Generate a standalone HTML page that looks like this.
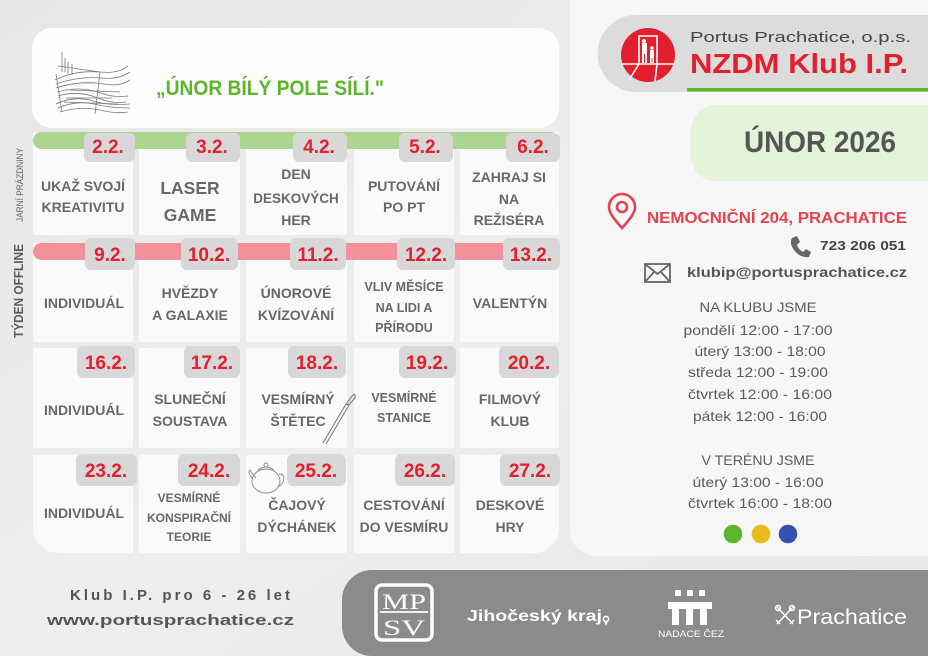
<!DOCTYPE html>
<html><head><meta charset="utf-8"><style>
html,body{margin:0;padding:0;background:#ebebeb;}
svg{display:block;}
text{font-family:"Liberation Sans","DejaVu Sans",sans-serif;}
.a{font-weight:bold;fill:#686868;font-size:14px;text-anchor:middle;}
.d{font-weight:bold;fill:#e41f2e;font-size:19px;text-anchor:middle;}
.h{fill:#5a5a5a;font-size:14px;text-anchor:middle;}
</style></head><body>
<svg width="928" height="656" viewBox="0 0 928 656" xmlns="http://www.w3.org/2000/svg">
<defs>
<linearGradient id="bg" x1="0" y1="0" x2="1" y2="1">
<stop offset="0" stop-color="#e6e6e6"/><stop offset="0.5" stop-color="#eeeeee"/><stop offset="1" stop-color="#e8e8e8"/>
</linearGradient>
</defs>
<rect width="928" height="656" fill="url(#bg)"/>

<!-- right panel -->
<path d="M570 0 H928 V556 H596 A26 26 0 0 1 570 530 Z" fill="#f7f7f7"/>

<!-- header box -->
<rect x="32" y="28" width="527" height="100" rx="20" fill="#fdfdfd"/>
<!-- sketch -->
<g stroke="#6e6e6e" stroke-width="0.8" fill="none" opacity="0.9">
<path d="M55 80 Q75 70 100 72 Q118 74 128 66"/>
<path d="M56 84 Q78 76 102 78 Q118 80 130 72"/>
<path d="M56 88 Q80 80 104 84 Q120 87 130 80"/>
<path d="M57 92 Q78 86 98 92 Q112 98 128 96"/>
<path d="M58 96 Q78 90 98 98 Q112 104 126 102"/>
<path d="M56 104 Q72 96 90 100 Q106 106 130 104"/>
<path d="M58 108 Q76 100 94 104 Q110 108 130 108"/>
<path d="M60 112 Q80 106 100 110 Q116 114 128 112"/>
<path d="M62 52 V72 M65 58 V72 M68 62 V74 M72 64 V75 M58 66 L100 72"/>
<path d="M56 74 L62 112 M100 72 L95 114"/>
<path d="M70 90 L120 92 M66 98 L112 98 M64 102 L118 104"/>
</g>
<text x="156" y="95" font-size="21" font-weight="bold" fill="#5db52c" textLength="228" lengthAdjust="spacingAndGlyphs">„ÚNOR BÍLÝ POLE SÍLÍ."</text>

<!-- cells -->
<g fill="#fafafa">
<rect x="33" y="132" width="100" height="103" rx="2"/>
<rect x="139" y="132" width="101" height="103" rx="2"/>
<rect x="246" y="132" width="101" height="103" rx="2"/>
<rect x="354" y="132" width="100" height="103" rx="2"/>
<rect x="460" y="132" width="99" height="103" rx="2"/>

<rect x="33" y="243" width="100" height="99" rx="2"/>
<rect x="139" y="243" width="101" height="99" rx="2"/>
<rect x="246" y="243" width="101" height="99" rx="2"/>
<rect x="354" y="243" width="100" height="99" rx="2"/>
<rect x="460" y="243" width="99" height="99" rx="2"/>

<rect x="33" y="348" width="100" height="100" rx="2"/>
<rect x="139" y="348" width="101" height="100" rx="2"/>
<rect x="246" y="348" width="101" height="100" rx="2"/>
<rect x="354" y="348" width="100" height="100" rx="2"/>
<rect x="460" y="348" width="99" height="100" rx="2"/>

<path d="M33 455 H133 V553 H58 A25 25 0 0 1 33 528 Z"/>
<rect x="139" y="455" width="101" height="98" rx="2"/>
<rect x="246" y="455" width="101" height="98" rx="2"/>
<rect x="354" y="455" width="100" height="98" rx="2"/>
<path d="M460 455 H559 V528 A25 25 0 0 1 534 553 H460 Z"/>
</g>

<!-- bars -->
<rect x="33" y="132" width="526" height="17" rx="8.5" fill="#acd68f"/>
<rect x="33" y="243" width="526" height="17" rx="8.5" fill="#f29199"/>

<!-- badges -->
<g fill="#d8d8d8">
<rect x="84" y="133" width="51" height="29" rx="6"/>
<rect x="186" y="133" width="54" height="29" rx="6"/>
<rect x="293" y="133" width="54" height="29" rx="6"/>
<rect x="399" y="133" width="54" height="29" rx="6"/>
<rect x="506" y="133" width="54" height="29" rx="6"/>

<rect x="85" y="238" width="50" height="32" rx="6"/>
<rect x="181" y="238" width="57" height="32" rx="6"/>
<rect x="290" y="238" width="56" height="32" rx="6"/>
<rect x="397" y="238" width="58" height="32" rx="6"/>
<rect x="503" y="238" width="57" height="32" rx="6"/>

<rect x="77" y="346" width="58" height="32" rx="6"/>
<rect x="184" y="346" width="56" height="32" rx="6"/>
<rect x="288" y="346" width="58" height="32" rx="6"/>
<rect x="399" y="346" width="57" height="32" rx="6"/>
<rect x="499" y="346" width="60" height="32" rx="6"/>

<rect x="76" y="454" width="61" height="32" rx="6"/>
<rect x="178" y="454" width="62" height="32" rx="6"/>
<rect x="287" y="454" width="59" height="32" rx="6"/>
<rect x="395" y="454" width="60" height="32" rx="6"/>
<rect x="500" y="454" width="60" height="32" rx="6"/>
</g>

<!-- dates -->
<text class="d" x="108" y="153">2.2.</text>
<text class="d" x="212" y="153">3.2.</text>
<text class="d" x="319" y="153">4.2.</text>
<text class="d" x="425" y="153">5.2.</text>
<text class="d" x="533" y="153">6.2.</text>

<text class="d" x="110" y="261">9.2.</text>
<text class="d" x="209" y="261">10.2.</text>
<text class="d" x="318" y="261">11.2.</text>
<text class="d" x="426" y="261">12.2.</text>
<text class="d" x="531" y="261">13.2.</text>

<text class="d" x="106" y="369">16.2.</text>
<text class="d" x="212" y="369">17.2.</text>
<text class="d" x="317" y="369">18.2.</text>
<text class="d" x="427" y="369">19.2.</text>
<text class="d" x="529" y="369">20.2.</text>

<text class="d" x="106" y="477">23.2.</text>
<text class="d" x="209" y="477">24.2.</text>
<text class="d" x="316" y="477">25.2.</text>
<text class="d" x="425" y="477">26.2.</text>
<text class="d" x="530" y="477">27.2.</text>

<!-- activities row 1 -->
<text class="a" x="83" y="191" font-size="13.5">UKAŽ SVOJÍ</text>
<text class="a" x="83" y="212" font-size="13.5">KREATIVITU</text>
<text class="a" x="190" y="194" style="font-size:17.5px">LASER</text>
<text class="a" x="190" y="221" style="font-size:17.5px">GAME</text>
<text class="a" x="296" y="179">DEN</text>
<text class="a" x="296" y="203" style="font-size:13.5px">DESKOVÝCH</text>
<text class="a" x="296" y="225">HER</text>
<text class="a" x="404" y="191">PUTOVÁNÍ</text>
<text class="a" x="404" y="212">PO PT</text>
<text class="a" x="509" y="182">ZAHRAJ SI</text>
<text class="a" x="509" y="204">NA</text>
<text class="a" x="509" y="225">REŽISÉRA</text>

<!-- row 2 -->
<text class="a" x="84" y="308">INDIVIDUÁL</text>
<text class="a" x="190" y="298">HVĚZDY</text>
<text class="a" x="190" y="320">A GALAXIE</text>
<text class="a" x="296" y="298">ÚNOROVÉ</text>
<text class="a" x="296" y="320">KVÍZOVÁNÍ</text>
<text class="a" x="404" y="291" style="font-size:12.5px">VLIV MĚSÍCE</text>
<text class="a" x="404" y="312" style="font-size:12.5px">NA LIDI A</text>
<text class="a" x="404" y="332" style="font-size:12.5px">PŘÍRODU</text>
<text class="a" x="510" y="308">VALENTÝN</text>

<!-- row 3 -->
<text class="a" x="84" y="415">INDIVIDUÁL</text>
<text class="a" x="190" y="404">SLUNEČNÍ</text>
<text class="a" x="190" y="426">SOUSTAVA</text>
<text class="a" x="298" y="404">VESMÍRNÝ</text>
<text class="a" x="298" y="426">ŠTĚTEC</text>
<text class="a" x="404" y="402" style="font-size:12.5px">VESMÍRNÉ</text>
<text class="a" x="404" y="422" style="font-size:12.5px">STANICE</text>
<text class="a" x="510" y="404">FILMOVÝ</text>
<text class="a" x="510" y="426">KLUB</text>

<!-- row 4 -->
<text class="a" x="84" y="518">INDIVIDUÁL</text>
<text class="a" x="189" y="502" style="font-size:12px">VESMÍRNÉ</text>
<text class="a" x="189" y="522" style="font-size:12px">KONSPIRAČNÍ</text>
<text class="a" x="189" y="541" style="font-size:12px">TEORIE</text>
<text class="a" x="297" y="510">ČAJOVÝ</text>
<text class="a" x="297" y="532">DÝCHÁNEK</text>
<text class="a" x="404" y="510">CESTOVÁNÍ</text>
<text class="a" x="404" y="532">DO VESMÍRU</text>
<text class="a" x="510" y="510">DESKOVÉ</text>
<text class="a" x="510" y="532">HRY</text>

<!-- brush -->
<g stroke="#777" fill="none" stroke-width="1">
<path d="M323 443 L346 404 M326 444 L349 405"/>
<path d="M346 404 L352 396 Q356 392 355 398 L349 405 Z" fill="#ddd"/>
</g>
<!-- teapot -->
<g stroke="#888" fill="none" stroke-width="0.9">
<ellipse cx="266" cy="481" rx="14" ry="12"/>
<path d="M258 470 Q266 464 274 470"/>
<circle cx="266" cy="465" r="2"/>
<path d="M252 478 Q247 472 250 470 Q254 476 256 478"/>
<path d="M279 474 Q286 474 283 482 Q281 486 278 486"/>
</g>

<!-- side labels -->
<text transform="translate(23,185) rotate(-90)" font-size="9" fill="#666" text-anchor="middle" textLength="74" lengthAdjust="spacingAndGlyphs">JARNÍ PRÁZDNINY</text>
<text transform="translate(23,291) rotate(-90)" font-size="13" font-weight="bold" fill="#5a5a5a" text-anchor="middle" textLength="94" lengthAdjust="spacingAndGlyphs">TÝDEN OFFLINE</text>

<!-- logo pill -->
<path d="M636 15 H928 V92 H636 A38.5 38.5 0 0 1 636 15 Z" fill="#dcdcdc"/>
<rect x="687" y="88" width="241" height="3.5" fill="#5db52c"/>
<circle cx="648" cy="55" r="27" fill="#e31e2d"/>
<g stroke="#fff" fill="none" stroke-width="1.6">
<path d="M639 64 V36 H657 V64"/>
<path d="M622 64 H675"/>
<path d="M639 64 L629 80 M657 64 L655 81"/>
</g>
<g fill="#fff">
<circle cx="644" cy="41" r="2"/>
<rect x="642" y="43" width="5" height="11"/>
<rect x="642" y="53" width="2" height="10"/>
<rect x="645" y="53" width="2" height="10"/>
<circle cx="652" cy="48" r="1.8"/>
<rect x="650" y="50" width="4" height="8"/>
<rect x="650" y="57" width="1.6" height="6"/>
<rect x="652.4" y="57" width="1.6" height="6"/>
</g>
<text x="690" y="42" font-size="14.5" fill="#444" textLength="221" lengthAdjust="spacingAndGlyphs">Portus Prachatice, o.p.s.</text>
<text x="690" y="73" font-size="28" font-weight="bold" fill="#e31e2d" textLength="218" lengthAdjust="spacingAndGlyphs">NZDM Klub I.P.</text>

<!-- month box -->
<path d="M716 105 H928 V181 H716 A25 25 0 0 1 691 156 V130 A25 25 0 0 1 716 105 Z" fill="#e3f4d8"/>
<text x="744" y="152" font-size="30" font-weight="bold" fill="#555" textLength="152" lengthAdjust="spacingAndGlyphs">ÚNOR 2026</text>

<!-- address -->
<g fill="none" stroke="#e8414f" stroke-width="2.6">
<path d="M622 228 C614 219 609 213 609 207 A13 13 0 0 1 635 207 C635 213 630 219 622 228 Z"/>
<circle cx="622" cy="207" r="5"/>
</g>
<text x="647" y="223" font-size="15.5" font-weight="bold" fill="#e8414f" textLength="260" lengthAdjust="spacingAndGlyphs">NEMOCNIČNÍ 204, PRACHATICE</text>
<path d="M792 238 L797 236 L800 242 L797 245 Q799 250 803 252 L806 249 L811 252 L809 257 Q800 258 794 250 Q789 243 792 238 Z" fill="#666"/>
<text x="820" y="250" font-size="12.5" font-weight="bold" fill="#444" textLength="86" lengthAdjust="spacingAndGlyphs">723 206 051</text>
<g fill="none" stroke="#666" stroke-width="1.8">
<rect x="645" y="264" width="25" height="18"/>
<path d="M645 264 L657.5 274 L670 264 M645 282 L654 272 M670 282 L661 272"/>
</g>
<text x="687" y="277" font-size="14" font-weight="bold" fill="#555" textLength="220" lengthAdjust="spacingAndGlyphs">klubip@portusprachatice.cz</text>

<!-- hours -->
<text class="h" x="758" y="312" textLength="117" lengthAdjust="spacingAndGlyphs">NA KLUBU JSME</text>
<text class="h" x="758" y="335" textLength="149" lengthAdjust="spacingAndGlyphs">pondělí 12:00 - 17:00</text>
<text class="h" x="760" y="356" textLength="131" lengthAdjust="spacingAndGlyphs">úterý 13:00 - 18:00</text>
<text class="h" x="758" y="377" textLength="140" lengthAdjust="spacingAndGlyphs">středa 12:00 - 19:00</text>
<text class="h" x="760" y="399" textLength="144" lengthAdjust="spacingAndGlyphs">čtvrtek 12:00 - 16:00</text>
<text class="h" x="760" y="421" textLength="134" lengthAdjust="spacingAndGlyphs">pátek 12:00 - 16:00</text>
<text class="h" x="758" y="465" textLength="113" lengthAdjust="spacingAndGlyphs">V TERÉNU JSME</text>
<text class="h" x="758" y="487" textLength="131" lengthAdjust="spacingAndGlyphs">úterý 13:00 - 16:00</text>
<text class="h" x="760" y="508" textLength="144" lengthAdjust="spacingAndGlyphs">čtvrtek 16:00 - 18:00</text>
<circle cx="733" cy="534" r="9.3" fill="#5db52c"/>
<circle cx="761" cy="534" r="9.3" fill="#e9bc1c"/>
<circle cx="788" cy="534" r="9.3" fill="#3552b0"/>

<!-- footer left -->
<text x="290" y="600" font-size="15" font-weight="bold" fill="#555" text-anchor="end" textLength="220" lengthAdjust="spacing">Klub I.P. pro  6 - 26  let</text>
<text x="294" y="625" font-size="15" font-weight="bold" fill="#555" text-anchor="end" textLength="247" lengthAdjust="spacingAndGlyphs">www.portusprachatice.cz</text>

<!-- footer sponsors -->
<path d="M372 570 H928 V656 H372 A30 30 0 0 1 342 626 V600 A30 30 0 0 1 372 570 Z" fill="#8b8b8b"/>
<rect x="376" y="585" width="56" height="55" rx="6" fill="none" stroke="#fff" stroke-width="3.5"/>
<line x1="380" y1="612" x2="428" y2="612" stroke="#fff" stroke-width="1.8"/>
<text x="404" y="609" font-size="22" fill="#fff" text-anchor="middle" textLength="44" lengthAdjust="spacingAndGlyphs" style="font-family:'Liberation Serif',serif">MP</text>
<text x="404" y="635" font-size="22" fill="#fff" text-anchor="middle" textLength="42" lengthAdjust="spacingAndGlyphs" style="font-family:'Liberation Serif',serif">SV</text>
<text x="467" y="621" font-size="16" font-weight="bold" fill="#fff" textLength="135" lengthAdjust="spacingAndGlyphs">Jihočeský kraj</text>
<circle cx="606" cy="619" r="2.6" fill="none" stroke="#fff" stroke-width="1.6"/>
<path d="M604 621 L606 626 L608 621 Z" fill="#fff"/>
<g fill="#fff">
<rect x="675" y="590" width="6" height="6"/>
<rect x="687" y="590" width="6" height="6"/>
<rect x="699" y="590" width="6" height="6"/>
<rect x="668" y="602" width="44" height="7"/>
<rect x="672" y="608" width="7" height="17"/>
<rect x="686" y="608" width="7" height="17"/>
<rect x="700" y="608" width="7" height="17"/>
</g>
<text x="691" y="637" font-size="9.5" fill="#fff" text-anchor="middle" textLength="66" lengthAdjust="spacingAndGlyphs">NADACE ČEZ</text>
<g stroke="#fff" stroke-width="1.5" fill="none">
<path d="M777 607 L793 624 M793 607 L777 624"/>
<circle cx="778" cy="608" r="2.5"/>
<circle cx="792" cy="608" r="2.5"/>
<path d="M776 620 L780 624 M794 620 L790 624"/>
</g>
<text x="797" y="624" font-size="21" fill="#fff" textLength="110" lengthAdjust="spacingAndGlyphs">Prachatice</text>
</svg>
</body></html>
